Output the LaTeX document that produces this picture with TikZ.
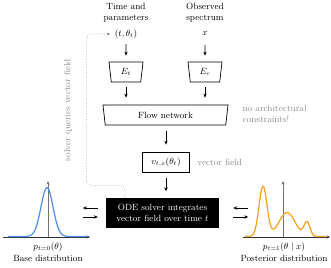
\documentclass[tikz,border=0pt]{standalone}
\usepackage{amsmath,amssymb}
\usepackage{tikz}
\usetikzlibrary{arrows.meta,calc,positioning,shapes.geometric}
\definecolor{baseblue}{RGB}{78,140,240}
\definecolor{postorange}{RGB}{246,160,28}
\definecolor{notegray}{RGB}{140,140,140}
\tikzset{
  arr/.style={-{Stealth[length=4pt,width=3.4pt]},semithick},
  enc/.style={draw,line width=0.7pt,trapezium,trapezium angle=76,shape border rotate=180,
    trapezium stretches body,minimum width=34pt,minimum height=20pt,inner sep=1pt},
  note/.style={text=notegray,align=left},
  axisline/.style={-{Stealth[length=3.5pt,width=3pt]},line width=0.6pt,black!80}
}
\begin{document}
\begin{tikzpicture}[x=1pt,y=-1pt,font=\small]
\useasboundingbox (0,0) rectangle (331,267);
% inputs
\node[align=center] (tlab) at (126,13) {Time and\\parameters};
\node[align=center] (xlab) at (205,13) {Observed\\spectrum};
\node (tt) at (126,34) {$(t,\theta_t)$};
\node (xx) at (205,34) {$x$};
% encoders and network
\node[enc] (Et) at (126,72) {$E_t$};
\node[enc] (Ec) at (205,72) {$E_c$};
\node[enc,trapezium angle=75,minimum width=125pt] (flow) at (165.5,115) {Flow network};
\node[note,anchor=west] (nocon) at (239,113.5) {no architectural\\constraints!};
\node[draw,line width=0.7pt,minimum width=47pt,minimum height=20pt,inner sep=1pt] (vf) at (166,162) {$v_{t,x}(\theta_t)$};
\node[note,right=4pt of vf] (vlab) {vector field};
% solver
\node[fill=black,text=white,align=center,minimum width=113pt,minimum height=30pt,inner sep=1pt] (ode) at (162.5,212.5)
  {ODE solver integrates\\vector field over time $t$};
\draw[arr] ([yshift=-2pt]tt.south) -- ([yshift=6pt]Et.north);
\draw[arr] ([yshift=-3pt]xx.south |- tt.south) -- ([yshift=6pt]Ec.north);
\draw[arr] ([yshift=-5pt]Et.south) -- ([yshift=7pt]Et.south |- flow.north);
\draw[arr] ([yshift=-5pt]Ec.south) -- ([yshift=7pt]Ec.south |- flow.north);
\draw[arr] ([yshift=-6pt]vf.south |- flow.south) -- ([yshift=7pt]vf.north);
\draw[arr] ([yshift=-6pt]vf.south) -- ([yshift=6pt]vf.south |- ode.north);
% solver queries
\coordinate (qturn) at ([xshift=-25pt]tt.west);
\draw[notegray,dotted,semithick,rounded corners=5pt,-{Stealth[length=3.5pt,width=3pt]}]
  ([xshift=-37.5pt]ode.north) -- ++(0,-12) -| (qturn) -- ([xshift=-1pt]tt.west);
\node[text=notegray,rotate=90] (qlab) at (68,110) {solver queries vector field};
% base distribution
\draw[axisline] (3,237) -- (90,237);
\draw[axisline,black!55] (48,237) -- (48,181);
\draw[baseblue,line width=1.2pt,smooth,samples=120,domain=8:88]
  plot (\x,{236.5-49*exp(-((\x-47)^2)/72)});
\node (p0) at (48,247) {$p_{t=0}(\theta)$};
\node (blab) at (48,258) {Base distribution};
% posterior distribution
\draw[axisline] (243,237) -- (330,237);
\draw[axisline,black!55] (283,237) -- (283,181);
\draw[postorange,line width=1.2pt,smooth,samples=160,domain=245:326]
  plot (\x,{236.5-50*exp(-((\x-263)^2)/32)-24*exp(-((\x-287)^2)/128)-14*exp(-((\x-307)^2)/18)});
\node (p1) at (284,247) {$p_{t=1}(\theta\mid x)$};
\node (plab) at (284,258) {Posterior distribution};
% flow in and out
\draw[arr] ([shift={(-8,-4.5)}]ode.west) -- ++(-15,0);
\draw[arr] ([shift={(-23,4.5)}]ode.west) -- ++(15,0);
\draw[arr] ([shift={(29,-4.5)}]ode.east) -- ++(-15,0);
\draw[arr] ([shift={(14,4.5)}]ode.east) -- ++(15,0);
\end{tikzpicture}
\end{document}
